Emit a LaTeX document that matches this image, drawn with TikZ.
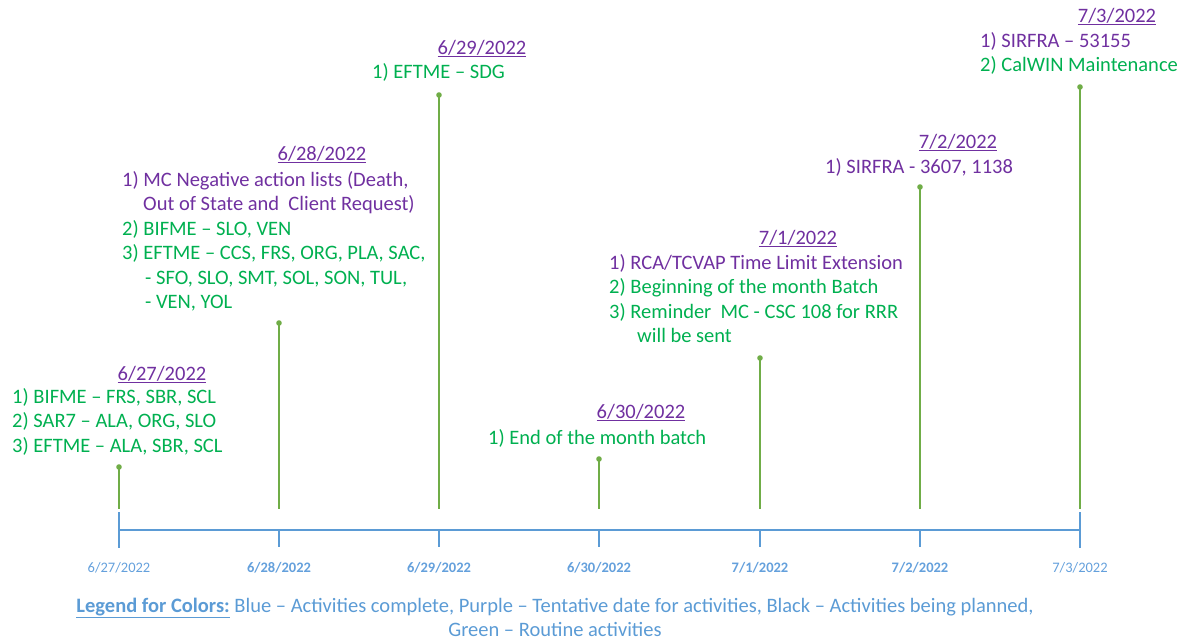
\documentclass[tikz,border=0pt]{standalone}
\usepackage{fontspec}
\setmainfont{Carlito}
\definecolor{purp}{RGB}{112,48,160}
\definecolor{grn}{RGB}{0,176,80}
\definecolor{stemc}{RGB}{112,173,71}
\definecolor{axisc}{RGB}{91,155,213}
\definecolor{labc}{RGB}{100,160,220}
\begin{document}
\begin{tikzpicture}[x=1pt,y=-1pt,
  datelbl/.style={font=\fontsize{20.5}{24.5}\selectfont, text=purp, anchor=base, inner sep=0pt},
  items/.style={font=\fontsize{20.5}{24.5}\selectfont, anchor=base west, inner sep=0pt},
  axlbl/.style={font=\fontsize{14.5}{17}\selectfont, text=labc, inner sep=0pt},
  axlblb/.style={axlbl, font=\fontsize{14.5}{17}\selectfont\bfseries},
  stemline/.style={draw=stemc, line width=1.4pt},
  axline/.style={draw=axisc, line width=1.4pt},
  dotc/.style={fill=stemc}]
\useasboundingbox (0,0) rectangle (1187,643);

% axis
\coordinate (ax0) at (119,530);
\coordinate (ax6) at (1080,530);
\draw[axline] (ax0) -- (ax6);
\coordinate (e0a) at (119,512); \coordinate (e0b) at (119,548);
\coordinate (e6a) at (1080,512); \coordinate (e6b) at (1080,548);
\draw[axline] (e0a) -- (e0b);
\draw[axline] (e6a) -- (e6b);
\foreach \i/\x in {1/279,2/439,3/599,4/760,5/920}{
  \coordinate (tk\i a) at (\x,530); \coordinate (tk\i b) at (\x,547);
  \draw[axline] (tk\i a) -- (tk\i b);
}

% axis labels
\node[axlbl] (l0) at (119,568) {6/27/2022};
\node[axlblb] (l1) at (279,568) {6/28/2022};
\node[axlblb] (l2) at (439,568) {6/29/2022};
\node[axlblb] (l3) at (599,568) {6/30/2022};
\node[axlblb] (l4) at (760,568) {7/1/2022};
\node[axlblb] (l5) at (920,568) {7/2/2022};
\node[axlbl] (l6) at (1080,568) {7/3/2022};

% stems
\foreach \i/\x/\t in {0/119/467,1/279/323,2/439/95,3/599/459,4/760/358,5/920/187,6/1080/87}{
  \coordinate (st\i) at (\x,\t);
  \coordinate (sb\i) at (\x,509);
  \draw[stemline] (st\i) -- (sb\i);
  \fill[dotc] (st\i) circle (2.8pt);
}

% 6/27
\node[datelbl] (d0) at (162,380) {\underline{6/27/2022}};
\node[items] (i0) at (12,403) {\color{grn}\begin{tabular}[t]{@{}l@{}}
1) BIFME -- FRS, SBR, SCL\\
2) SAR7 -- ALA, ORG, SLO\\
3) EFTME -- ALA, SBR, SCL\end{tabular}};

% 6/28
\node[datelbl] (d1) at (322,160) {\underline{6/28/2022}};
\node[items] (i1) at (122,186) {\begin{tabular}[t]{@{}l@{}}
\color{purp}1) MC Negative action lists (Death,\\
\color{purp}\hspace*{21pt}Out of State and~ Client Request)\\
\color{grn}2) BIFME -- SLO, VEN\\
\color{grn}3) EFTME -- CCS, FRS, ORG, PLA, SAC,\\
\color{grn}\hspace*{23pt}- SFO, SLO, SMT, SOL, SON, TUL,\\
\color{grn}\hspace*{23pt}- VEN, YOL\end{tabular}};

% 6/29
\node[datelbl] (d2) at (482,54) {\underline{6/29/2022}};
\node[items,text=grn] (i2) at (372,78) {1) EFTME -- SDG};

% 6/30
\node[datelbl] (d3) at (641,418) {\underline{6/30/2022}};
\node[items,text=grn] (i3) at (488,444) {1) End of the month batch};

% 7/1
\node[datelbl] (d4) at (798,244) {\underline{7/1/2022}};
\node[items] (i4) at (609,269) {\begin{tabular}[t]{@{}l@{}}
\color{purp}1) RCA/TCVAP Time Limit Extension\\
\color{grn}2) Beginning of the month Batch\\
\color{grn}3) Reminder~ MC - CSC 108 for RRR\\
\color{grn}\hspace*{28pt}will be sent\end{tabular}};

% 7/2
\node[datelbl] (d5) at (958,148) {\underline{7/2/2022}};
\node[items,text=purp] (i5) at (825,173) {1) SIRFRA - 3607, 1138};

% 7/3
\node[datelbl] (d6) at (1117,22) {\underline{7/3/2022}};
\node[items] (i6) at (980,47) {\begin{tabular}[t]{@{}l@{}}
\color{purp}1) SIRFRA -- 53155\\
\color{grn}2) CalWIN Maintenance\end{tabular}};

% legend
\node[font=\fontsize{20.5}{24}\selectfont, text=axisc, anchor=base, inner sep=0pt] (leg) at (555,612) {\begin{tabular}[t]{@{}c@{}}
\underline{\textbf{Legend for Colors:}} Blue -- Activities complete, Purple -- Tentative date for activities, Black -- Activities being planned,\\
Green -- Routine activities\end{tabular}};
\end{tikzpicture}
\end{document}
